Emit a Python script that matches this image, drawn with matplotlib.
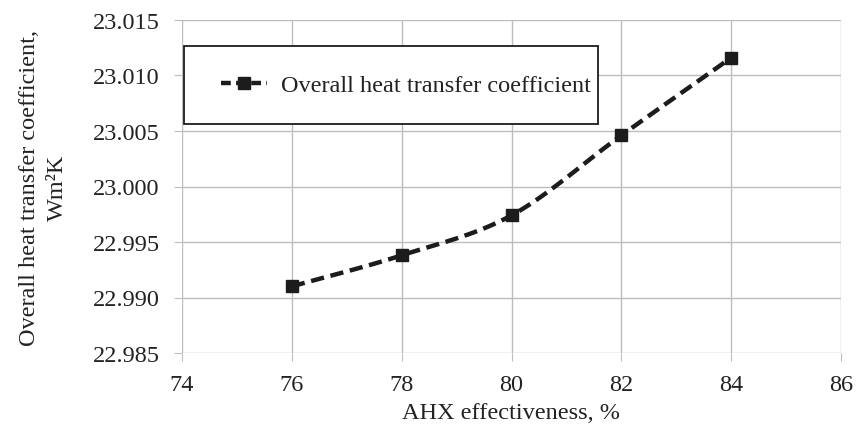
import numpy as np
import matplotlib
matplotlib.use("Agg")
import matplotlib.pyplot as plt
from matplotlib.lines import Line2D
from matplotlib.patches import Rectangle

x_vals = [76, 78, 80, 82, 84]
y_vals = [22.9910, 22.9938, 22.9974, 23.0046, 23.0116]
series_label = "Overall heat transfer coefficient"
xticks = [74, 76, 78, 80, 82, 84, 86]
yticks = [22.985, 22.990, 22.995, 23.000, 23.005, 23.010, 23.015]

plt.rcParams['font.family'] = ['Liberation Serif', 'DejaVu Serif']


def catmull_rom(xs, ys, n=30):
    xs = np.asarray(xs, float)
    ys = np.asarray(ys, float)
    P = np.column_stack([xs, ys])
    P = np.vstack([P[0] - (P[1] - P[0]), P, P[-1] + (P[-1] - P[-2])])
    out = []
    for i in range(1, len(P) - 2):
        p0, p1, p2, p3 = P[i - 1], P[i], P[i + 1], P[i + 2]
        t = np.linspace(0, 1, n)[:, None]
        m1 = (p2 - p0) / 2
        m2 = (p3 - p1) / 2
        h00 = 2 * t**3 - 3 * t**2 + 1
        h10 = t**3 - 2 * t**2 + t
        h01 = -2 * t**3 + 3 * t**2
        h11 = t**3 - t**2
        seg = h00 * p1 + h10 * m1 + h01 * p2 + h11 * m2
        out.append(seg if i == 1 else seg[1:])
    out = np.vstack(out)
    return out[:, 0], out[:, 1]


W, H = 856, 431
L, R, T, B = 182, 841, 21, 354
fig = plt.figure(figsize=(W / 100, H / 100), dpi=100)
ax = fig.add_axes([L / W, 1 - B / H, (R - L) / W, (B - T) / H])
aw, ah = R - L, B - T

line_color = '#1c1c1c'
sx, sy = catmull_rom(x_vals, y_vals)
ax.plot(sx, sy, color=line_color, lw=3.2, dashes=(3, 1.5), zorder=3)
ax.plot(x_vals, y_vals, ls='none', marker='s', ms=8.5, color=line_color, zorder=4)

ax.set_xlim(74, 86)
ax.set_ylim(22.985, 23.015)
ax.set_xticks(xticks)
ax.set_yticks(yticks)
ax.set_xticklabels([str(v) for v in xticks])
ax.set_yticklabels([f"{v:.3f}" for v in yticks])
ax.grid(True, color='#bdbdbd', lw=1)
ax.set_axisbelow(True)
for s in ax.spines.values():
    s.set_visible(False)
ax.tick_params(axis='y', length=6, color='#bdbdbd', labelsize=17.5, pad=10,
               labelcolor='#222222')
ax.tick_params(axis='x', length=6, color='#bdbdbd', labelsize=17.5, pad=9,
               labelcolor='#222222')

ax.set_xlabel("AHX effectiveness, %", fontsize=17.5, labelpad=5, color='#222222')
ax.set_ylabel("Overall heat transfer coefficient,\nWm\u00b2K", fontsize=17.5,
              labelpad=18, linespacing=1.4, color='#222222')

# legend frame
rx0, rx1, ry0, ry1 = 184, 598, 47, 125
ax.add_patch(Rectangle(((rx0 - L) / aw, (B - ry1) / ah), (rx1 - rx0) / aw,
                       (ry1 - ry0) / ah, transform=ax.transAxes,
                       facecolor='white', edgecolor=line_color, lw=1.3,
                       zorder=5, clip_on=False))
handle = Line2D([], [], color=line_color, lw=3.2, dashes=(2.2, 1.2),
                marker='s', ms=8)
leg = ax.legend([handle], [series_label], loc='center left',
                bbox_to_anchor=((221 - L) / aw, (B - 86) / ah),
                fontsize=17.5, frameon=False, handlelength=1.9,
                borderaxespad=0, borderpad=0, handletextpad=0.55)
leg.set_zorder(6)
for t in leg.get_texts():
    t.set_color('#222222')

fig.savefig("out.png", dpi=100)
